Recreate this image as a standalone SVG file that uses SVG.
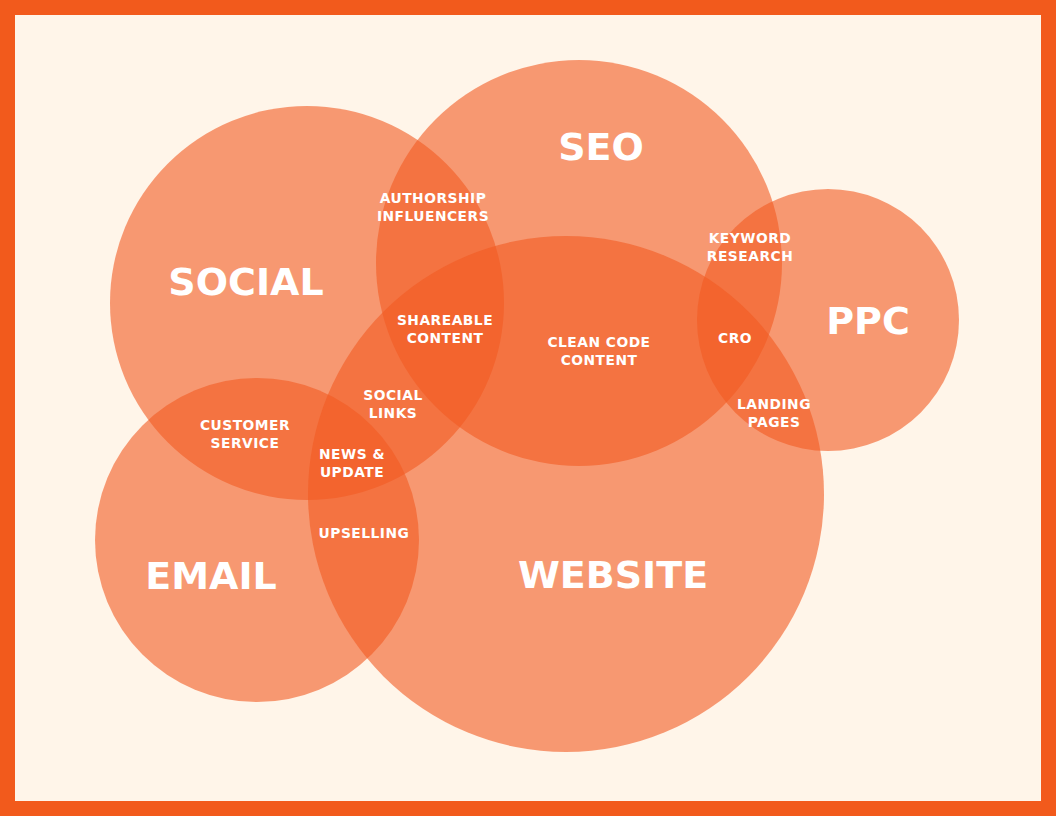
<svg xmlns="http://www.w3.org/2000/svg" width="1056" height="816" viewBox="0 0 1056 816">
<style>
.c{fill:#F15A22;fill-opacity:0.6}
.big{font-family:"DejaVu Sans","Liberation Sans",sans-serif;font-weight:700;font-size:38px;fill:#FFFFFF;text-anchor:middle}
.sm{font-family:"DejaVu Sans","Liberation Sans",sans-serif;font-weight:700;font-size:13.8px;fill:#FFFFFF;text-anchor:middle;letter-spacing:0.5px}
</style>
<rect x="0" y="0" width="1056" height="816" fill="#F25A1C"/>
<rect x="15" y="15" width="1026" height="786" fill="#FFF5E9"/>
<g id="social"><circle class="c" cx="307" cy="303" r="197"/><text class="big" x="246" y="295">SOCIAL</text></g>
<g id="seo"><circle class="c" cx="579" cy="263" r="203"/><text class="big" x="601" y="160">SEO</text></g>
<g id="ppc"><circle class="c" cx="828" cy="320" r="131"/><text class="big" x="868" y="334">PPC</text></g>
<g id="email"><circle class="c" cx="257" cy="540" r="162"/><text class="big" x="211" y="589">EMAIL</text></g>
<g id="website"><circle class="c" cx="566" cy="494" r="258"/><text class="big" x="613" y="588">WEBSITE</text></g>
<g id="labels">
<text class="sm" x="433" y="203">AUTHORSHIP</text><text class="sm" x="433" y="221">INFLUENCERS</text>
<text class="sm" x="445" y="325">SHAREABLE</text><text class="sm" x="445" y="343">CONTENT</text>
<text class="sm" x="599" y="347">CLEAN CODE</text><text class="sm" x="599" y="365">CONTENT</text>
<text class="sm" x="750" y="243">KEYWORD</text><text class="sm" x="750" y="261">RESEARCH</text>
<text class="sm" x="735" y="343">CRO</text>
<text class="sm" x="774" y="409">LANDING</text><text class="sm" x="774" y="427">PAGES</text>
<text class="sm" x="393" y="400">SOCIAL</text><text class="sm" x="393" y="418">LINKS</text>
<text class="sm" x="352" y="459">NEWS &amp;</text><text class="sm" x="352" y="477">UPDATE</text>
<text class="sm" x="245" y="430">CUSTOMER</text><text class="sm" x="245" y="448">SERVICE</text>
<text class="sm" x="364" y="538">UPSELLING</text>
</g>
<g id="connectors"/>
</svg>
